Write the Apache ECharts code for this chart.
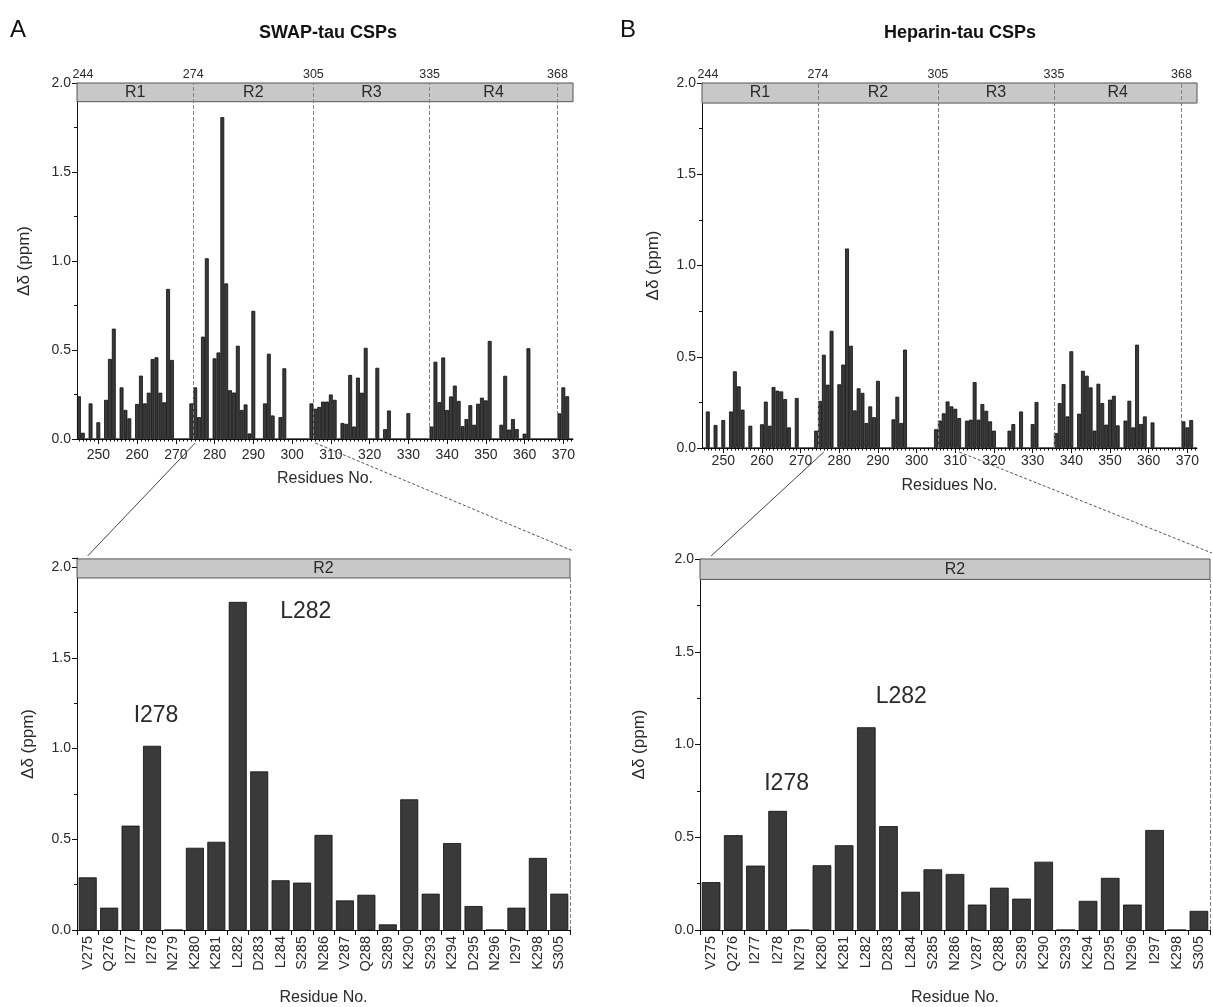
<!DOCTYPE html>
<html><head><meta charset="utf-8">
<script src="https://cdn.jsdelivr.net/npm/echarts@6/dist/echarts.min.js"></script>
<style>html,body{margin:0;padding:0;background:#fff}#c{width:1213px;height:1007px}</style>
</head><body><div id="c"></div>
<script>
// ---------- data ----------
const residueNumbers = [];
for (let r = 245; r <= 372; r++) residueNumbers.push(String(r));

// SWAP-tau CSPs, residues 245..372
const swapCSP = [
  0.24,0.035,0,0.2,0,0.094,0,0.22,0.45,0.62,
  0,0.29,0.163,0.116,0,0.197,0.356,0.2,0.26,0.449,
  0.459,0.26,0.206,0.843,0.444,0,0,0,0,0.2,
  0.29,0.123,0.575,1.015,0,0.453,0.486,1.808,0.874,0.274,
  0.261,0.524,0.163,0.194,0.031,0.72,0,0,0.2,0.479,
  0.132,0,0.123,0.397,0,0,0,0,0,0,
  0.2,0.17,0.18,0.21,0.21,0.25,0.22,0,0.09,0.085,
  0.36,0.07,0.345,0.26,0.512,0,0,0.4,0,0.055,
  0.16,0,0,0,0,0.145,0,0,0,0,
  0,0.07,0.434,0.207,0.458,0.163,0.239,0.3,0.214,0.072,
  0.112,0.19,0.08,0.198,0.232,0.217,0.551,0,0,0.08,
  0.355,0.053,0.112,0.056,0,0.03,0.51,0,0,0,
  0,0,0,0,0.144,0.29,0.24,0
];
// Heparin-tau CSPs, residues 245..372
const heparinCSP = [
  0,0.2,0,0.126,0,0.153,0,0.2,0.42,0.338,
  0.21,0,0.122,0,0,0.13,0.254,0.122,0.334,0.314,
  0.31,0.268,0.113,0,0.274,0,0,0,0,0.095,
  0.258,0.511,0.347,0.642,0,0.349,0.457,1.093,0.56,0.206,
  0.327,0.302,0.137,0.228,0.169,0.368,0,0,0,0.157,
  0.281,0.137,0.539,0,0,0,0,0,0,0,
  0.103,0.15,0.19,0.255,0.228,0.215,0.164,0,0.15,0.155,
  0.361,0.155,0.241,0.204,0.146,0.095,0,0,0,0.095,
  0.131,0,0.2,0,0,0.131,0.252,0,0,0,
  0,0.082,0.246,0.35,0.173,0.53,0,0.188,0.423,0.396,
  0.332,0.095,0.352,0.246,0.128,0.265,0.286,0.124,0,0.15,
  0.259,0.113,0.566,0.131,0.173,0,0.14,0,0,0,
  0,0,0,0,0.146,0.113,0.153,0
];
const zoomResidues = ['V275','Q276','I277','I278','N279','K280','K281','L282','D283','L284','S285','N286',
  'V287','Q288','S289','K290','S293','K294','D295','N296','I297','K298','S305'];
const swapZoom = [0.29,0.123,0.575,1.015,0,0.453,0.486,1.808,0.874,0.274,0.261,0.524,
  0.163,0.194,0.031,0.72,0.2,0.479,0.132,0,0.123,0.397,0.2];
const heparinZoom = [0.258,0.511,0.347,0.642,0,0.349,0.457,1.093,0.56,0.206,0.327,0.302,
  0.137,0.228,0.169,0.368,0,0.157,0.281,0.137,0.539,0,0.103];
const repeatBounds = [244, 274, 305, 335, 368];
const repeatNames = ['R1', 'R2', 'R3', 'R4'];

// ---------- chart ----------
const FONT = "'Liberation Sans', Arial, Helvetica, sans-serif";
const TXT = '#2a2a2a';
const chart = echarts.init(document.getElementById('c'));
const isTen = (i, v) => Number(v) % 10 === 0;
const barStyle = { color: '#3a3a3a', borderColor: '#0c0c0c', borderWidth: 0.8 };

function yAx(gi, max, nameGap) {
  return {
    type: 'value', gridIndex: gi, min: 0, max: max, interval: 0.5,
    name: 'Δδ (ppm)', nameLocation: 'middle', nameGap: nameGap, nameRotate: 90,
    nameTextStyle: { fontFamily: FONT, fontSize: 17, color: TXT },
    axisLine: { show: true, lineStyle: { color: '#111', width: 1 } },
    axisTick: { show: true, length: 5, lineStyle: { color: '#111' } },
    minorTick: { show: true, splitNumber: 2, length: 3, lineStyle: { color: '#111' } },
    splitLine: { show: false },
    axisLabel: { fontFamily: FONT, fontSize: 14, color: TXT, margin: 6,
      formatter: v => Math.abs(v * 2 - Math.round(v * 2)) < 1e-6 ? v.toFixed(1) : '' }
  };
}
function topX(gi, nameGap, margin) {
  return [
    { type: 'category', gridIndex: gi, data: residueNumbers, position: 'bottom',
      name: 'Residues No.', nameLocation: 'middle', nameGap: nameGap,
      nameTextStyle: { fontFamily: FONT, fontSize: 16, color: TXT },
      axisLine: { show: true, lineStyle: { color: '#111' } },
      axisTick: { show: true, alignWithLabel: true, interval: isTen, length: 5, lineStyle: { color: '#111' } },
      axisLabel: { interval: isTen, fontFamily: FONT, fontSize: 14, color: TXT, margin: margin } },
    { type: 'category', gridIndex: gi, data: residueNumbers, position: 'bottom',
      axisLine: { show: false },
      axisTick: { show: true, alignWithLabel: true, interval: 0, length: 2.5, lineStyle: { color: '#111' } },
      axisLabel: { show: false } },
    { type: 'value', gridIndex: gi, min: 244.5, max: 372.5, show: false }
  ];
}
function bottomX(gi) {
  return [
    { type: 'category', gridIndex: gi, data: zoomResidues, position: 'bottom',
      name: 'Residue No.', nameLocation: 'middle', nameGap: 60,
      nameTextStyle: { fontFamily: FONT, fontSize: 16, color: TXT },
      axisLine: { show: true, lineStyle: { color: '#111' } },
      axisTick: { show: true, interval: 0, length: 5, lineStyle: { color: '#111' } },
      axisLabel: { interval: 0, rotate: 90, fontFamily: FONT, fontSize: 14.5, color: TXT, margin: 6 } },
    { type: 'value', gridIndex: gi, min: 0, max: zoomResidues.length, show: false }
  ];
}
function topSeries(xi, yi, data, bandLow) {
  const areas = repeatNames.map((n, k) => [
    { name: n, xAxis: repeatBounds[k] + 0.5, yAxis: bandLow },
    { xAxis: repeatBounds[k + 1] + 0.5, yAxis: 2 }]);
  areas.push([{ name: '', xAxis: repeatBounds[4] + 0.5, yAxis: bandLow }, { xAxis: 372.5, yAxis: 2 }]);
  return [
    { type: 'bar', xAxisIndex: xi, yAxisIndex: yi, data: data, barCategoryGap: '0%',
      itemStyle: barStyle, silent: true, z: 2 },
    { type: 'line', xAxisIndex: xi + 2, yAxisIndex: yi, data: [], clip: false, silent: true, z: 3,
      markArea: { silent: true, itemStyle: { color: '#c8c8c8', borderWidth: 0 },
        label: { show: true, position: 'inside', fontFamily: FONT, fontSize: 16, color: TXT },
        data: areas } },
    { type: 'line', xAxisIndex: xi + 2, yAxisIndex: yi, data: [], clip: false, silent: true, z: 4,
      markArea: { silent: true, itemStyle: { color: 'rgba(0,0,0,0)', borderColor: '#555', borderWidth: 1 },
        label: { show: false },
        data: [[{ xAxis: 244.5, yAxis: bandLow }, { xAxis: 372.5, yAxis: 2 }]] },
      markLine: { silent: true, symbol: ['none', 'none'],
        lineStyle: { type: 'dashed', color: '#808080', width: 1 },
        label: { show: true, position: 'end', formatter: '{b}', fontFamily: FONT, fontSize: 12.5, color: TXT, distance: 2 },
        data: repeatBounds.map((b, k) => [
          k === 0 ? { name: String(b), xAxis: b + 0.5, yAxis: 0, lineStyle: { color: 'rgba(0,0,0,0)' }, label: { offset: [6, 0] } }
                  : { name: String(b), xAxis: b + 0.5, yAxis: 0 },
          { xAxis: b + 0.5, yAxis: 2 }]) } }
  ];
}
function bottomSeries(xi, yi, data, bandLow, bandHigh, notes) {
  const n = zoomResidues.length;
  return [
    { type: 'bar', xAxisIndex: xi, yAxisIndex: yi, data: data, barCategoryGap: '16%',
      itemStyle: barStyle, silent: true, z: 2,
      markPoint: { silent: true, symbol: 'rect', symbolSize: 1, itemStyle: { color: 'rgba(0,0,0,0)' },
        label: { show: true, position: 'inside', formatter: '{b}', fontFamily: FONT, fontSize: 23, color: TXT },
        data: notes } },
    { type: 'line', xAxisIndex: xi + 1, yAxisIndex: yi, data: [], clip: false, silent: true, z: 3,
      markArea: { silent: true, itemStyle: { color: '#c8c8c8', borderColor: '#555', borderWidth: 1 },
        label: { show: true, position: 'inside', fontFamily: FONT, fontSize: 16, color: TXT },
        data: [[{ name: 'R2', xAxis: 0, yAxis: bandLow }, { xAxis: n, yAxis: bandHigh }]] },
      markLine: { silent: true, symbol: ['none', 'none'],
        lineStyle: { type: 'dashed', color: '#808080', width: 1 }, label: { show: false },
        data: [[{ xAxis: n, yAxis: 0 }, { xAxis: n, yAxis: bandLow }]] } }
  ];
}

const option = {
  animation: false,
  backgroundColor: '#fff',
  textStyle: { fontFamily: FONT },
  grid: [
    { left: 77, top: 83, width: 496, height: 356 },
    { left: 702, top: 83, width: 495, height: 365 },
    { left: 77, top: 558, width: 493, height: 377 },
    { left: 700, top: 559, width: 510, height: 375 }
  ],
  xAxis: [].concat(topX(0, 32, 9), topX(1, 30, 6), bottomX(2), bottomX(3)),
  yAxis: [yAx(0, 2, 44), yAx(1, 2, 40), yAx(2, 2.05, 40), yAx(3, 2, 52)],
  series: [].concat(
    topSeries(0, 0, swapCSP, 1.895),
    topSeries(3, 1, heparinCSP, 1.89),
    bottomSeries(6, 2, swapZoom, 1.94, 2.045, [
      { name: 'I278', coord: ['I278', 1.18], label: { offset: [4, 0] } },
      { name: 'L282', coord: ['L282', 1.755], label: { offset: [68, 0] } }]),
    bottomSeries(8, 3, heparinZoom, 1.89, 2.0, [
      { name: 'I278', coord: ['I278', 0.79], label: { offset: [9, 0] } },
      { name: 'L282', coord: ['L282', 1.26], label: { offset: [35, 0] } }])
  )
};
chart.setOption(option);

// connector lines between the overview and zoomed panels
const px = (xi, yi, pt) => chart.convertToPixel({ xAxisIndex: xi, yAxisIndex: yi }, pt);
const connectA = [275, 306], connectB = [276, 311];
const aL = px(2, 0, [connectA[0], 0]), aR = px(2, 0, [connectA[1], 0]);
const bL = px(5, 1, [connectB[0], 0]), bR = px(5, 1, [connectB[1], 0]);
const zAL = px(7, 2, [0.5, 2.045]), zAR = px(7, 2, [23, 2.045]);
const zBL = px(9, 3, [0.5, 2.0]), zBR = px(9, 3, [23, 2.0]);
const solid = { stroke: '#444', lineWidth: 1 };
const dashed = { stroke: '#555', lineWidth: 1, lineDash: [3, 2] };
chart.setOption({
  graphic: [
    { type: 'text', left: 10, top: 18, style: { text: 'A', font: "24px " + FONT, fill: '#111' } },
    { type: 'text', left: 620, top: 18, style: { text: 'B', font: "24px " + FONT, fill: '#111' } },
    { type: 'text', x: 328, y: 33, style: { text: 'SWAP-tau CSPs', font: "bold 18px " + FONT, fill: '#111', textAlign: 'center', textVerticalAlign: 'middle' } },
    { type: 'text', x: 960, y: 33, style: { text: 'Heparin-tau CSPs', font: "bold 18px " + FONT, fill: '#111', textAlign: 'center', textVerticalAlign: 'middle' } },
    { type: 'line', shape: { x1: aL[0], y1: aL[1] + 4, x2: zAL[0], y2: zAL[1] - 3 }, style: solid },
    { type: 'line', shape: { x1: aR[0], y1: aR[1] + 4, x2: zAR[0] + 3, y2: zAR[1] - 8 }, style: dashed },
    { type: 'line', shape: { x1: bL[0], y1: bL[1] + 4, x2: zBL[0], y2: zBL[1] - 3 }, style: solid },
    { type: 'line', shape: { x1: bR[0], y1: bR[1] + 4, x2: zBR[0] + 2, y2: zBR[1] - 6 }, style: dashed }
  ]
});
</script>
</body></html>
